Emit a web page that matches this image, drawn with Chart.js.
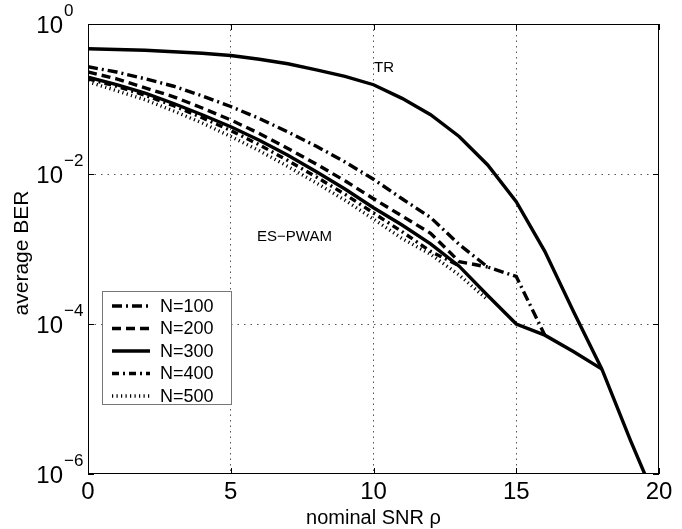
<!DOCTYPE html>
<html>
<head>
<meta charset="utf-8">
<script src="https://cdn.jsdelivr.net/npm/chart.js@4/dist/chart.umd.min.js"></script>
<style>
html,body{margin:0;padding:0;background:#fff;}
#wrap{width:682px;height:529px;position:relative;}
canvas{display:block;}
</style>
</head>
<body>
<div id="wrap"><canvas id="c" width="682" height="529"></canvas></div>
<script>
// ---- data (x: nominal SNR, y: average BER) ----
const snr   = [0,1,2,3,4,5,6,7,8,9,10,11,12,13,14,15,16,17,18];
const snrTR = [0,1,2,3,4,5,6,7,8,9,10,11,12,13,14,15,16,17,18,19,19.5];

const berTR   = [0.468,0.457,0.447,0.427,0.407,0.380,0.339,0.295,0.245,0.200,0.155,0.102,0.0617,0.0316,0.0132,0.00427,9.3e-4,1.48e-4,2.5e-5,2.8e-6,1.0e-6];
const berN100 = [0.269,0.229,0.186,0.148,0.110,0.0794,0.0550,0.0363,0.0234,0.0145,0.00851,0.00468,0.00263,0.00115,5.75e-4,4.3e-4,7.1e-5];
const berN200 = [0.229,0.186,0.141,0.107,0.0759,0.0525,0.0347,0.0219,0.0135,0.00813,0.00468,0.00275,0.00162,6.8e-4,5.75e-4];
const berN300 = [0.195,0.155,0.120,0.0871,0.0617,0.0427,0.0282,0.0178,0.0107,0.00631,0.00355,0.00209,0.00117,5.9e-4,2.4e-4,1.0e-4,7.1e-5,4.3e-5,2.5e-5];
const berN400 = [0.186,0.148,0.112,0.0813,0.0562,0.0380,0.0245,0.0151,0.00912,0.00537,0.00302,0.0017,9.3e-4,6.0e-4];
const berN500 = [0.170,0.129,0.0977,0.0692,0.0479,0.0316,0.0204,0.0126,0.00759,0.00447,0.00251,0.00138,8.5e-4,4.5e-4,2.1e-4];

const legendLabels = ['N=100','N=200','N=300','N=400','N=500'];
const xTickValues = [0,5,10,15,20];
const yTickExponents = [0,-2,-4,-6];
const xTitle = 'nominal SNR \u03C1';
const yTitle = 'average BER';
const noteTR = 'TR';
const noteES = 'ES\u2212PWAM';

function pts(xs, ys){ return ys.map((v,i)=>({x:xs[i], y:v})); }

const FONT = '"Liberation Sans", Arial, Helvetica, sans-serif';

const series = [
  {label:'TR', data:pts(snrTR,berTR), dash:[], legend:false},
  {label:legendLabels[0], data:pts(snr,berN100), dash:[10,4,2,4], legend:true},
  {label:legendLabels[1], data:pts(snr,berN200), dash:[9,5], legend:true},
  {label:legendLabels[2], data:pts(snr,berN300), dash:[], legend:true},
  {label:legendLabels[3], data:pts(snr,berN400), dash:[7,4,2,4], legend:true},
  {label:legendLabels[4], data:pts(snr,berN500), dash:[1.2,3.3], legend:true}
];

const datasets = series.map(s=>({
  label:s.label, data:s.data, borderColor:'#000', backgroundColor:'#000',
  borderWidth:3.4, borderDash:s.dash, borderCapStyle:'butt', borderJoinStyle:'miter',
  pointRadius:0, pointHoverRadius:0, tension:0, fill:false
}));

const deco = {
  id:'deco',
  afterDraw(chart){
    const {ctx, chartArea:a, scales:{x, y}} = chart;
    ctx.save();
    // axes box
    ctx.strokeStyle='#000'; ctx.lineWidth=1; ctx.setLineDash([]);
    ctx.strokeRect(a.left+0.5, a.top+0.5, a.right-a.left-1, a.bottom-a.top-1);
    // inward ticks
    ctx.beginPath();
    xTickValues.forEach(v=>{
      const px=Math.round(x.getPixelForValue(v))+0.5;
      ctx.moveTo(px,a.bottom); ctx.lineTo(px,a.bottom-6);
      ctx.moveTo(px,a.top); ctx.lineTo(px,a.top+6);
    });
    yTickExponents.forEach(e=>{
      const py=Math.round(y.getPixelForValue(Math.pow(10,e)))+0.5;
      ctx.moveTo(a.left,py); ctx.lineTo(a.left+6,py);
      ctx.moveTo(a.right,py); ctx.lineTo(a.right-6,py);
    });
    ctx.stroke();
    ctx.fillStyle='#000';
    // x tick labels
    ctx.font='24px '+FONT; ctx.textAlign='center'; ctx.textBaseline='alphabetic';
    xTickValues.forEach(v=>{
      ctx.fillText(String(v), x.getPixelForValue(v), a.bottom+25);
    });
    // y tick labels 10^e
    yTickExponents.forEach(e=>{
      const py=y.getPixelForValue(Math.pow(10,e));
      ctx.font='24px '+FONT; ctx.textAlign='right';
      ctx.fillText('10', 63, py+9);
      ctx.font='17px '+FONT; ctx.textAlign='left';
      ctx.fillText(e<0 ? '\u2212'+Math.abs(e) : String(e), 64, py-8);
    });
    // axis titles
    ctx.font='20px '+FONT; ctx.textAlign='center';
    ctx.fillText(xTitle, (a.left+a.right)/2, 524);
    ctx.save();
    ctx.font='21px '+FONT;
    ctx.translate(28, (a.top+a.bottom)/2 + 4);
    ctx.rotate(-Math.PI/2);
    ctx.fillText(yTitle, 0, 0);
    ctx.restore();
    // notes
    ctx.font='15px '+FONT; ctx.textAlign='left'; ctx.textBaseline='middle';
    ctx.fillText(noteTR, 374, 68);
    ctx.fillText(noteES, 257, 237);
    // legend
    const lx=102, ly=291, lw=129, lh=113;
    ctx.fillStyle='#fff'; ctx.fillRect(lx,ly,lw,lh);
    ctx.strokeStyle='#777'; ctx.lineWidth=1;
    ctx.strokeRect(lx+0.5,ly+0.5,lw,lh);
    ctx.font='18px '+FONT; ctx.textBaseline='middle';
    const leg = series.filter(s=>s.legend);
    leg.forEach((s,i)=>{
      const ry = 306 + i*22.5;
      ctx.strokeStyle='#000'; ctx.lineWidth=3.4; ctx.lineCap='butt';
      ctx.setLineDash(s.dash);
      ctx.beginPath(); ctx.moveTo(112,ry); ctx.lineTo(150,ry); ctx.stroke();
      ctx.setLineDash([]);
      ctx.fillStyle='#000';
      ctx.fillText(s.label, 160, ry+1);
    });
    ctx.restore();
  }
};

new Chart(document.getElementById('c'), {
  type:'line',
  data:{datasets},
  options:{
    responsive:false, animation:false, devicePixelRatio:1,
    layout:{padding:{top:24, right:23, left:0, bottom:0}},
    plugins:{legend:{display:false}, tooltip:{enabled:false}},
    scales:{
      x:{type:'linear', min:0, max:20,
         afterBuildTicks:(s)=>{ s.ticks = xTickValues.map(v=>({value:v})); },
         afterFit:(s)=>{ s.height = 55; },
         ticks:{display:false},
         border:{display:false, dash:[1.5,4]},
         grid:{drawTicks:false, color:(c)=> (c.tick && (c.tick.value===0||c.tick.value===20)) ? 'rgba(0,0,0,0)' : '#555', lineWidth:1}
      },
      y:{type:'logarithmic', min:1e-6, max:1,
         afterBuildTicks:(s)=>{ s.ticks = yTickExponents.map(e=>({value:Math.pow(10,e)})); },
         afterFit:(s)=>{ s.width = 88; },
         ticks:{display:false},
         border:{display:false, dash:[1.5,5]},
         grid:{drawTicks:false, color:(c)=> (c.tick && (c.tick.value===1||c.tick.value===1e-6)) ? 'rgba(0,0,0,0)' : '#555', lineWidth:1}
      }
    }
  },
  plugins:[deco]
});
</script>
</body>
</html>
